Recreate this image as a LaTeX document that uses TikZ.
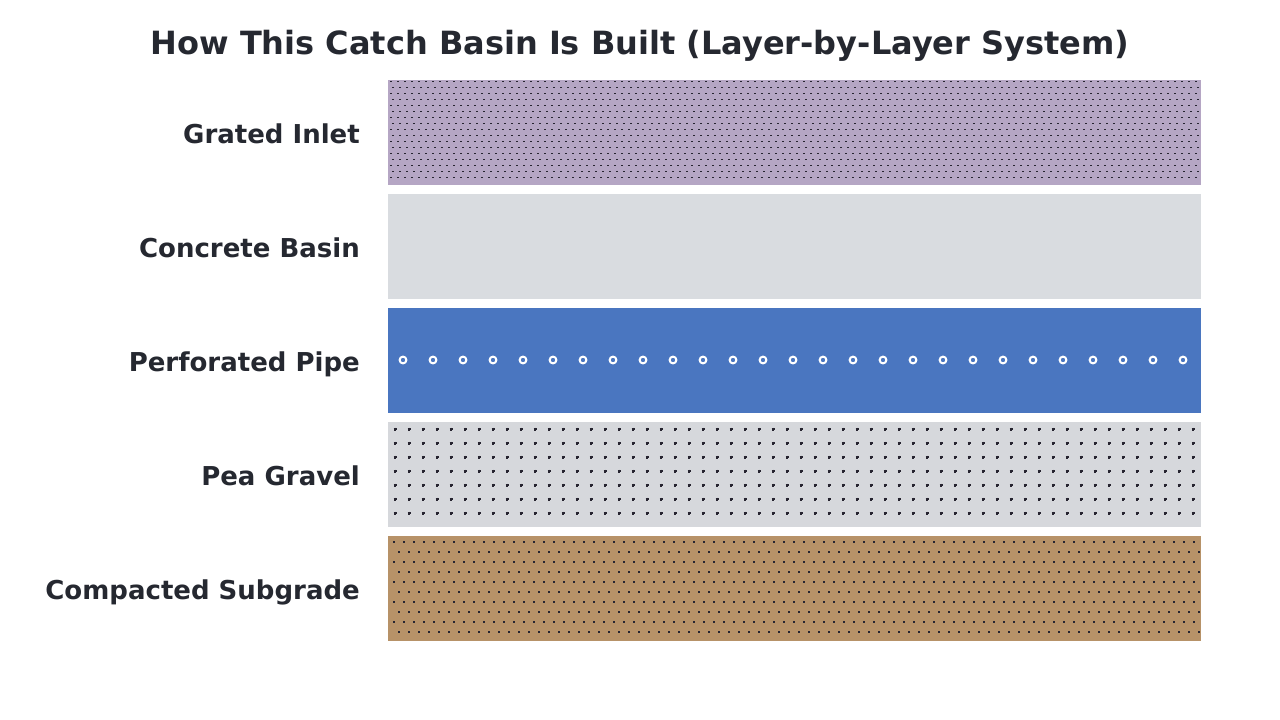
\documentclass[tikz,border=0pt]{standalone}
\usepackage{fontspec}
\setmainfont{DejaVu Sans}
\usepackage{xcolor}
\usepackage{tikz}
\usetikzlibrary{positioning}
\definecolor{ink}{RGB}{37,40,48}
\definecolor{inletc}{RGB}{181,166,196}
\definecolor{basinc}{RGB}{217,220,224}
\definecolor{pipec}{RGB}{74,118,192}
\definecolor{gravelc}{RGB}{214,216,220}
\definecolor{subc}{RGB}{183,146,104}
\definecolor{dotc}{RGB}{38,36,48}

\begin{document}
\begin{tikzpicture}[x=1pt, y=-1pt, font=\bfseries,
  layer/.style={rectangle, draw=none, inner sep=0pt, outer sep=0pt,
                minimum width=813pt, minimum height=105pt},
  lbl/.style={anchor=east, text=ink, font=\fontsize{26}{30}\selectfont\bfseries,
              inner sep=0pt, text height=19pt, text depth=0pt, yshift=-1pt},
  hole/.style={draw=white, line width=2pt},
  grit/.style={draw=dotc, line width=1.1pt}]
  \useasboundingbox (0,0) rectangle (1280,720);
  \node[text=ink, font=\fontsize{32}{38}\selectfont\bfseries, inner sep=0pt,
        text height=23pt, text depth=0pt] (title) at (640,42.5)
    {How This Catch Basin Is Built (Layer-by-Layer System)};
  % layers, top to bottom
  \node[layer, fill=inletc] (inlet) at (794.5,132.5) {};
  \node[layer, fill=basinc, below=9pt of inlet] (basin) {};
  \node[layer, fill=pipec, below=9pt of basin] (pipe) {};
  \node[layer, fill=gravelc, below=9pt of pipe] (gravel) {};
  \node[layer, fill=subc, below=9pt of gravel] (sub) {};
  \node[lbl, left=28pt of inlet] (linlet) {Grated Inlet};
  \node[lbl, left=28pt of basin] (lbasin) {Concrete Basin};
  \node[lbl, left=28pt of pipe] (lpipe) {Perforated Pipe};
  \node[lbl, left=28pt of gravel] (lgravel) {Pea Gravel};
  \node[lbl, left=28pt of sub] (lsub) {Compacted Subgrade};
  % grate slots
  \foreach \j in {0,...,16} {
    \pgfmathsetmacro{\off}{mod(\j,2)*2}
    \foreach \k in {0,...,115}
      \fill[dotc] (390+\off+7*\k,81+6*\j) rectangle ++(2.2,1.3);
  }
  % pipe perforations
  \foreach \k in {0,...,26}
    \draw[hole] (403+30*\k,360) circle (3.4);
  % gravel
  \foreach \j in {0,...,6}
    \foreach \k in {0,...,57} {
      \draw[grit] (393.5+14*\k,429+14*\j) -- ++(3,0);
      \draw[grit] (395+14*\k,427.5+14*\j) -- ++(0,3);
    }
  % subgrade
  \foreach \j in {0,...,9} {
    \pgfmathsetmacro{\off}{mod(\j,2)*5}
    \foreach \k in {0,...,80}
      \fill[dotc] (393+\off+10*\k,541+10*\j) rectangle ++(2.4,2.4);
  }
\end{tikzpicture}
\end{document}
